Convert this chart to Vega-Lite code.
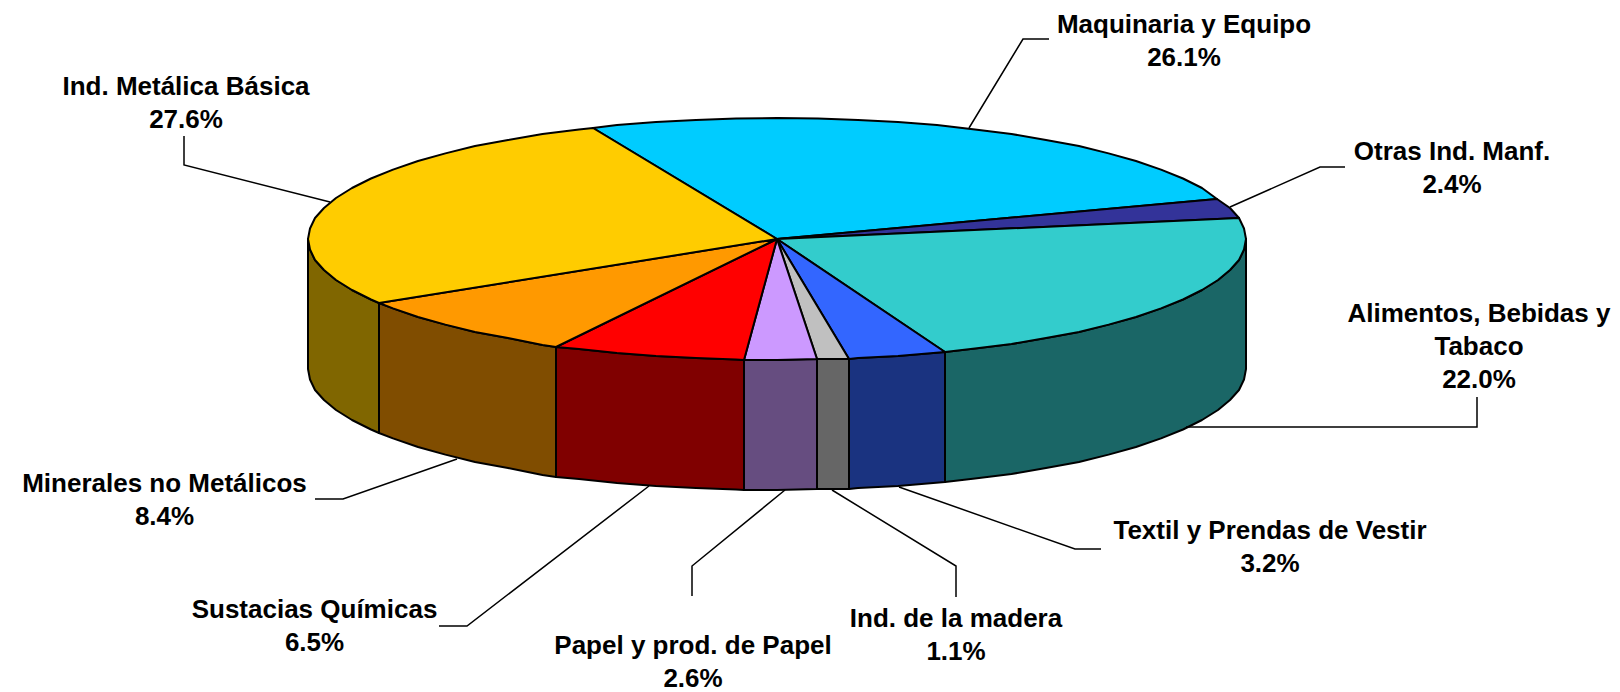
{"$schema":"https://vega.github.io/schema/vega-lite/v6.json","width":1620,"height":692,"padding":0,"autosize":{"type":"none"},"background":"white","view":{"stroke":null},
"datasets":{
"faces":[
{"face":"Metalica side","part":"side","i":0,"x":379,"y":303},{"face":"Metalica side","part":"side","i":1,"x":371,"y":299.5},{"face":"Metalica side","part":"side","i":2,"x":352,"y":290},{"face":"Metalica side","part":"side","i":3,"x":336,"y":280},{"face":"Metalica side","part":"side","i":4,"x":324,"y":270},{"face":"Metalica side","part":"side","i":5,"x":315,"y":260},{"face":"Metalica side","part":"side","i":6,"x":310,"y":249.5},{"face":"Metalica side","part":"side","i":7,"x":308,"y":239},{"face":"Metalica side","part":"side","i":8,"x":308,"y":369},{"face":"Metalica side","part":"side","i":9,"x":310,"y":379.5},{"face":"Metalica side","part":"side","i":10,"x":315,"y":390},{"face":"Metalica side","part":"side","i":11,"x":324,"y":400},{"face":"Metalica side","part":"side","i":12,"x":336,"y":410},{"face":"Metalica side","part":"side","i":13,"x":352,"y":420},{"face":"Metalica side","part":"side","i":14,"x":371,"y":429.5},{"face":"Metalica side","part":"side","i":15,"x":379,"y":433},
{"face":"Minerales side","part":"side","i":0,"x":556,"y":347},{"face":"Minerales side","part":"side","i":1,"x":542.5,"y":345},{"face":"Minerales side","part":"side","i":2,"x":508,"y":338},{"face":"Minerales side","part":"side","i":3,"x":475,"y":332},{"face":"Minerales side","part":"side","i":4,"x":445.4,"y":324.6},{"face":"Minerales side","part":"side","i":5,"x":418,"y":317},{"face":"Minerales side","part":"side","i":6,"x":393,"y":308.4},{"face":"Minerales side","part":"side","i":7,"x":379,"y":303},{"face":"Minerales side","part":"side","i":8,"x":379,"y":433},{"face":"Minerales side","part":"side","i":9,"x":393,"y":438.4},{"face":"Minerales side","part":"side","i":10,"x":418,"y":447},{"face":"Minerales side","part":"side","i":11,"x":445.4,"y":454.6},{"face":"Minerales side","part":"side","i":12,"x":475,"y":462},{"face":"Minerales side","part":"side","i":13,"x":508,"y":468},{"face":"Minerales side","part":"side","i":14,"x":542.5,"y":475},{"face":"Minerales side","part":"side","i":15,"x":556,"y":477},
{"face":"Sustacias side","part":"side","i":0,"x":744,"y":360},{"face":"Sustacias side","part":"side","i":1,"x":736,"y":359.5},{"face":"Sustacias side","part":"side","i":2,"x":696,"y":358},{"face":"Sustacias side","part":"side","i":3,"x":656,"y":356},{"face":"Sustacias side","part":"side","i":4,"x":617,"y":353},{"face":"Sustacias side","part":"side","i":5,"x":579,"y":349},{"face":"Sustacias side","part":"side","i":6,"x":556,"y":347},{"face":"Sustacias side","part":"side","i":7,"x":556,"y":477},{"face":"Sustacias side","part":"side","i":8,"x":579,"y":479},{"face":"Sustacias side","part":"side","i":9,"x":617,"y":483},{"face":"Sustacias side","part":"side","i":10,"x":656,"y":486},{"face":"Sustacias side","part":"side","i":11,"x":696,"y":488},{"face":"Sustacias side","part":"side","i":12,"x":736,"y":489.5},{"face":"Sustacias side","part":"side","i":13,"x":744,"y":490},
{"face":"Papel side","part":"side","i":0,"x":817,"y":359},{"face":"Papel side","part":"side","i":1,"x":777,"y":360},{"face":"Papel side","part":"side","i":2,"x":744,"y":360},{"face":"Papel side","part":"side","i":3,"x":744,"y":490},{"face":"Papel side","part":"side","i":4,"x":777,"y":490},{"face":"Papel side","part":"side","i":5,"x":817,"y":489},
{"face":"Madera side","part":"side","i":0,"x":849,"y":359},{"face":"Madera side","part":"side","i":1,"x":817,"y":359},{"face":"Madera side","part":"side","i":2,"x":817,"y":489},{"face":"Madera side","part":"side","i":3,"x":849,"y":489},
{"face":"Textil side","part":"side","i":0,"x":945,"y":352},{"face":"Textil side","part":"side","i":1,"x":898,"y":356},{"face":"Textil side","part":"side","i":2,"x":858,"y":358},{"face":"Textil side","part":"side","i":3,"x":849,"y":359},{"face":"Textil side","part":"side","i":4,"x":849,"y":489},{"face":"Textil side","part":"side","i":5,"x":858,"y":488},{"face":"Textil side","part":"side","i":6,"x":898,"y":486},{"face":"Textil side","part":"side","i":7,"x":945,"y":482},
{"face":"Alimentos side","part":"side","i":0,"x":1246,"y":239},{"face":"Alimentos side","part":"side","i":1,"x":1244,"y":249.5},{"face":"Alimentos side","part":"side","i":2,"x":1239,"y":260},{"face":"Alimentos side","part":"side","i":3,"x":1230,"y":270},{"face":"Alimentos side","part":"side","i":4,"x":1218,"y":280},{"face":"Alimentos side","part":"side","i":5,"x":1202,"y":290},{"face":"Alimentos side","part":"side","i":6,"x":1183,"y":299.5},{"face":"Alimentos side","part":"side","i":7,"x":1161,"y":308.4},{"face":"Alimentos side","part":"side","i":8,"x":1136,"y":317},{"face":"Alimentos side","part":"side","i":9,"x":1108.6,"y":324.6},{"face":"Alimentos side","part":"side","i":10,"x":1079,"y":332},{"face":"Alimentos side","part":"side","i":11,"x":1046,"y":338},{"face":"Alimentos side","part":"side","i":12,"x":1011.5,"y":344},{"face":"Alimentos side","part":"side","i":13,"x":975,"y":348.6},{"face":"Alimentos side","part":"side","i":14,"x":945,"y":352},{"face":"Alimentos side","part":"side","i":15,"x":945,"y":482},{"face":"Alimentos side","part":"side","i":16,"x":975,"y":478.6},{"face":"Alimentos side","part":"side","i":17,"x":1011.5,"y":474},{"face":"Alimentos side","part":"side","i":18,"x":1046,"y":468},{"face":"Alimentos side","part":"side","i":19,"x":1079,"y":462},{"face":"Alimentos side","part":"side","i":20,"x":1108.6,"y":454.6},{"face":"Alimentos side","part":"side","i":21,"x":1136,"y":447},{"face":"Alimentos side","part":"side","i":22,"x":1161,"y":438.4},{"face":"Alimentos side","part":"side","i":23,"x":1183,"y":429.5},{"face":"Alimentos side","part":"side","i":24,"x":1202,"y":420},{"face":"Alimentos side","part":"side","i":25,"x":1218,"y":410},{"face":"Alimentos side","part":"side","i":26,"x":1230,"y":400},{"face":"Alimentos side","part":"side","i":27,"x":1239,"y":390},{"face":"Alimentos side","part":"side","i":28,"x":1244,"y":379.5},{"face":"Alimentos side","part":"side","i":29,"x":1246,"y":369},
{"face":"Maquinaria top","part":"top","i":0,"x":777,"y":239},{"face":"Maquinaria top","part":"top","i":1,"x":593,"y":128},{"face":"Maquinaria top","part":"top","i":2,"x":617,"y":125},{"face":"Maquinaria top","part":"top","i":3,"x":656,"y":122},{"face":"Maquinaria top","part":"top","i":4,"x":696,"y":120},{"face":"Maquinaria top","part":"top","i":5,"x":736,"y":118.5},{"face":"Maquinaria top","part":"top","i":6,"x":777,"y":118},{"face":"Maquinaria top","part":"top","i":7,"x":818,"y":118.5},{"face":"Maquinaria top","part":"top","i":8,"x":858,"y":120},{"face":"Maquinaria top","part":"top","i":9,"x":898,"y":122},{"face":"Maquinaria top","part":"top","i":10,"x":937,"y":125},{"face":"Maquinaria top","part":"top","i":11,"x":975,"y":129.4},{"face":"Maquinaria top","part":"top","i":12,"x":1011.5,"y":134},{"face":"Maquinaria top","part":"top","i":13,"x":1046,"y":140},{"face":"Maquinaria top","part":"top","i":14,"x":1079,"y":146},{"face":"Maquinaria top","part":"top","i":15,"x":1108.6,"y":153.4},{"face":"Maquinaria top","part":"top","i":16,"x":1136,"y":161},{"face":"Maquinaria top","part":"top","i":17,"x":1161,"y":169.6},{"face":"Maquinaria top","part":"top","i":18,"x":1183,"y":178.5},{"face":"Maquinaria top","part":"top","i":19,"x":1202,"y":188},{"face":"Maquinaria top","part":"top","i":20,"x":1217,"y":199},
{"face":"Otras top","part":"top","i":0,"x":777,"y":239},{"face":"Otras top","part":"top","i":1,"x":1217,"y":199},{"face":"Otras top","part":"top","i":2,"x":1230,"y":208},{"face":"Otras top","part":"top","i":3,"x":1239,"y":218},
{"face":"Alimentos top","part":"top","i":0,"x":777,"y":239},{"face":"Alimentos top","part":"top","i":1,"x":1239,"y":218},{"face":"Alimentos top","part":"top","i":2,"x":1244,"y":228.5},{"face":"Alimentos top","part":"top","i":3,"x":1246,"y":239},{"face":"Alimentos top","part":"top","i":4,"x":1244,"y":249.5},{"face":"Alimentos top","part":"top","i":5,"x":1239,"y":260},{"face":"Alimentos top","part":"top","i":6,"x":1230,"y":270},{"face":"Alimentos top","part":"top","i":7,"x":1218,"y":280},{"face":"Alimentos top","part":"top","i":8,"x":1202,"y":290},{"face":"Alimentos top","part":"top","i":9,"x":1183,"y":299.5},{"face":"Alimentos top","part":"top","i":10,"x":1161,"y":308.4},{"face":"Alimentos top","part":"top","i":11,"x":1136,"y":317},{"face":"Alimentos top","part":"top","i":12,"x":1108.6,"y":324.6},{"face":"Alimentos top","part":"top","i":13,"x":1079,"y":332},{"face":"Alimentos top","part":"top","i":14,"x":1046,"y":338},{"face":"Alimentos top","part":"top","i":15,"x":1011.5,"y":344},{"face":"Alimentos top","part":"top","i":16,"x":975,"y":348.6},{"face":"Alimentos top","part":"top","i":17,"x":945,"y":352},
{"face":"Textil top","part":"top","i":0,"x":777,"y":239},{"face":"Textil top","part":"top","i":1,"x":945,"y":352},{"face":"Textil top","part":"top","i":2,"x":898,"y":356},{"face":"Textil top","part":"top","i":3,"x":858,"y":358},{"face":"Textil top","part":"top","i":4,"x":849,"y":359},
{"face":"Madera top","part":"top","i":0,"x":777,"y":239},{"face":"Madera top","part":"top","i":1,"x":849,"y":359},{"face":"Madera top","part":"top","i":2,"x":817,"y":359},
{"face":"Papel top","part":"top","i":0,"x":777,"y":239},{"face":"Papel top","part":"top","i":1,"x":817,"y":359},{"face":"Papel top","part":"top","i":2,"x":777,"y":360},{"face":"Papel top","part":"top","i":3,"x":744,"y":360},
{"face":"Sustacias top","part":"top","i":0,"x":777,"y":239},{"face":"Sustacias top","part":"top","i":1,"x":744,"y":360},{"face":"Sustacias top","part":"top","i":2,"x":736,"y":359.5},{"face":"Sustacias top","part":"top","i":3,"x":696,"y":358},{"face":"Sustacias top","part":"top","i":4,"x":656,"y":356},{"face":"Sustacias top","part":"top","i":5,"x":617,"y":353},{"face":"Sustacias top","part":"top","i":6,"x":579,"y":349},{"face":"Sustacias top","part":"top","i":7,"x":556,"y":347},
{"face":"Minerales top","part":"top","i":0,"x":777,"y":239},{"face":"Minerales top","part":"top","i":1,"x":556,"y":347},{"face":"Minerales top","part":"top","i":2,"x":542.5,"y":345},{"face":"Minerales top","part":"top","i":3,"x":508,"y":338},{"face":"Minerales top","part":"top","i":4,"x":475,"y":332},{"face":"Minerales top","part":"top","i":5,"x":445.4,"y":324.6},{"face":"Minerales top","part":"top","i":6,"x":418,"y":317},{"face":"Minerales top","part":"top","i":7,"x":393,"y":308.4},{"face":"Minerales top","part":"top","i":8,"x":379,"y":303},
{"face":"Metalica top","part":"top","i":0,"x":777,"y":239},{"face":"Metalica top","part":"top","i":1,"x":379,"y":303},{"face":"Metalica top","part":"top","i":2,"x":371,"y":299.5},{"face":"Metalica top","part":"top","i":3,"x":352,"y":290},{"face":"Metalica top","part":"top","i":4,"x":336,"y":280},{"face":"Metalica top","part":"top","i":5,"x":324,"y":270},{"face":"Metalica top","part":"top","i":6,"x":315,"y":260},{"face":"Metalica top","part":"top","i":7,"x":310,"y":249.5},{"face":"Metalica top","part":"top","i":8,"x":308,"y":239},{"face":"Metalica top","part":"top","i":9,"x":310,"y":228.5},{"face":"Metalica top","part":"top","i":10,"x":315,"y":218},{"face":"Metalica top","part":"top","i":11,"x":324,"y":208},{"face":"Metalica top","part":"top","i":12,"x":336,"y":198},{"face":"Metalica top","part":"top","i":13,"x":352,"y":188},{"face":"Metalica top","part":"top","i":14,"x":371,"y":178.5},{"face":"Metalica top","part":"top","i":15,"x":393,"y":169.6},{"face":"Metalica top","part":"top","i":16,"x":418,"y":161},{"face":"Metalica top","part":"top","i":17,"x":445.4,"y":153.4},{"face":"Metalica top","part":"top","i":18,"x":475,"y":146},{"face":"Metalica top","part":"top","i":19,"x":508,"y":140},{"face":"Metalica top","part":"top","i":20,"x":542.5,"y":134},{"face":"Metalica top","part":"top","i":21,"x":579,"y":129.4},{"face":"Metalica top","part":"top","i":22,"x":593,"y":128}
],
"leaders":[
{"slice":"Maquinaria","i":0,"x":1049,"y":39},{"slice":"Maquinaria","i":1,"x":1023,"y":39},{"slice":"Maquinaria","i":2,"x":969,"y":128},
{"slice":"Otras","i":0,"x":1345,"y":167},{"slice":"Otras","i":1,"x":1320,"y":167},{"slice":"Otras","i":2,"x":1230,"y":207},
{"slice":"Alimentos","i":0,"x":1477,"y":397},{"slice":"Alimentos","i":1,"x":1477,"y":427},{"slice":"Alimentos","i":2,"x":1186,"y":427},
{"slice":"Textil","i":0,"x":1101,"y":549},{"slice":"Textil","i":1,"x":1075,"y":549},{"slice":"Textil","i":2,"x":899,"y":487},
{"slice":"Madera","i":0,"x":956,"y":597},{"slice":"Madera","i":1,"x":956,"y":566},{"slice":"Madera","i":2,"x":832,"y":490},
{"slice":"Papel","i":0,"x":692,"y":596},{"slice":"Papel","i":1,"x":692,"y":566},{"slice":"Papel","i":2,"x":785,"y":490},
{"slice":"Sustacias","i":0,"x":439,"y":626},{"slice":"Sustacias","i":1,"x":467,"y":626},{"slice":"Sustacias","i":2,"x":649,"y":486},
{"slice":"Minerales","i":0,"x":315,"y":499},{"slice":"Minerales","i":1,"x":343,"y":499},{"slice":"Minerales","i":2,"x":457,"y":459},
{"slice":"Metalica","i":0,"x":184,"y":136},{"slice":"Metalica","i":1,"x":184,"y":165},{"slice":"Metalica","i":2,"x":330,"y":202}
],
"labels":[
{"label":"Maquinaria y Equipo\n26.1%","x":1184,"y":25},
{"label":"Otras Ind. Manf.\n2.4%","x":1452,"y":152},
{"label":"Alimentos, Bebidas y\nTabaco\n22.0%","x":1479,"y":314},
{"label":"Textil y Prendas de Vestir\n3.2%","x":1270,"y":531},
{"label":"Ind. de la madera\n1.1%","x":956,"y":619},
{"label":"Papel y prod. de Papel\n2.6%","x":693,"y":646},
{"label":"Sustacias Químicas\n6.5%","x":314.5,"y":610},
{"label":"Minerales no Metálicos\n8.4%","x":164.5,"y":484},
{"label":"Ind. Metálica Básica\n27.6%","x":186,"y":87}
]},
"encoding":{
"x":{"field":"x","type":"quantitative","scale":{"domain":[0,1620]},"axis":null},
"y":{"field":"y","type":"quantitative","scale":{"domain":[692,0]},"axis":null}},
"layer":[
{"data":{"name":"faces"},"transform":[{"filter":"datum.part==='side'"}],
"mark":{"type":"line","interpolate":"linear-closed","filled":true,"stroke":"black","strokeWidth":2,"strokeJoin":"round"},
"encoding":{"order":{"field":"i","type":"quantitative"},"fill":{"field":"face","type":"nominal","legend":null,"scale":{"domain":["Metalica side","Minerales side","Sustacias side","Papel side","Madera side","Textil side","Alimentos side"],"range":["#806600","#804d00","#800000","#664d80","#666666","#1a3380","#1a6666"]}}}},
{"data":{"name":"faces"},"transform":[{"filter":"datum.part==='top'"}],
"mark":{"type":"line","interpolate":"linear-closed","filled":true,"stroke":"black","strokeWidth":2,"strokeJoin":"round"},
"encoding":{"order":{"field":"i","type":"quantitative"},"fill":{"field":"face","type":"nominal","legend":null,"scale":{"domain":["Maquinaria top","Otras top","Alimentos top","Textil top","Madera top","Papel top","Sustacias top","Minerales top","Metalica top"],"range":["#00ccff","#333399","#33cccc","#3366ff","#c0c0c0","#cc99ff","#ff0000","#ff9900","#ffcc00"]}}}},
{"data":{"name":"leaders"},
"mark":{"type":"line","stroke":"black","strokeWidth":1.5},
"encoding":{"order":{"field":"i","type":"quantitative"},"detail":{"field":"slice","type":"nominal"}}},
{"data":{"name":"labels"},
"mark":{"type":"text","font":"Liberation Sans","fontWeight":"bold","fontSize":26,"lineBreak":"\n","lineHeight":33,"align":"center","baseline":"middle","fill":"black"},
"encoding":{"text":{"field":"label","type":"nominal"}}}
],
"resolve":{"scale":{"fill":"independent"}}}
